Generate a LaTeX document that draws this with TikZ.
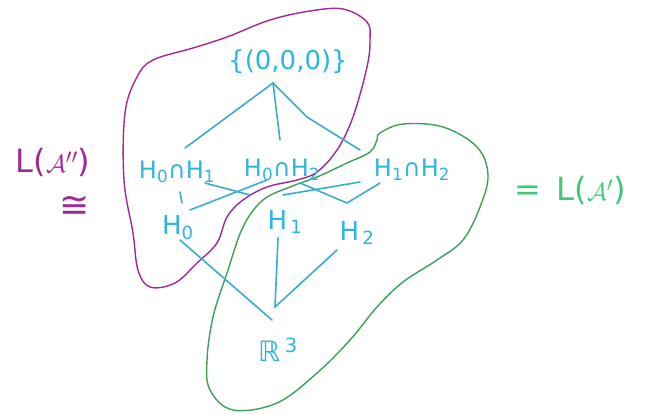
\documentclass[tikz,border=0pt]{standalone}
\usepackage{fontspec}
\setmainfont{DejaVu Sans}
\usetikzlibrary{calc}
\definecolor{cyanink}{RGB}{45,182,224}
\definecolor{edgeink}{RGB}{60,172,205}
\definecolor{magink}{RGB}{163,40,150}
\definecolor{greenline}{RGB}{60,160,85}
\definecolor{greentext}{RGB}{62,200,122}
\begin{document}
\begin{tikzpicture}[x=1pt,y=-1pt,
  lab/.style={text=cyanink,inner sep=0pt,font=\fontsize{24}{28}\selectfont},
  edge/.style={draw=edgeink,line width=1.6pt,line cap=round,line join=round},
  magblob/.style={draw=magink,line width=1.4pt},
  greenblob/.style={draw=greenline,line width=1.4pt}]
\useasboundingbox (0,0) rectangle (645,416);
\fill[white] (0,0) rectangle (645,416);
% blobs
\draw[magblob] plot[smooth cycle,tension=0.6] coordinates {
 (343,9) (367,22) (370,40) (367,67) (353,117) (337,150) (317,172) (297,180)
 (267,187) (243,200) (227,217) (217,243) (197,263) (175,283) (150,287)
 (138,270) (133,233) (124,180) (125,113) (137,77) (153,60) (193,48)
 (227,37) (270,20) (310,11)};
\draw[greenblob] plot[smooth cycle,tension=0.6] coordinates {
 (380,133) (403,124) (443,127) (477,147) (488,175) (480,207) (463,240)
 (437,260) (403,282) (377,307) (350,340) (317,373) (277,403) (233,410)
 (210,390) (207,360) (213,317) (227,273) (243,227) (263,200) (290,187)
 (317,177) (347,163) (370,152) (377,140)};
% nodes
\node[lab,font=\fontsize{26}{30}\selectfont] (top) at (288,62) {\{(0,0,0)\}};
\node[lab] (h01) at (177,172) {H\textsubscript{0}∩H\textsubscript{1}};
\node[lab] (h02) at (282,170) {H\textsubscript{0}∩H\textsubscript{2}};
\node[lab] (h12) at (412,170) {H\textsubscript{1}∩H\textsubscript{2}};
\node[lab,font=\fontsize{26}{30}\selectfont] (h0) at (178,228) {H\textsubscript{0}};
\node[lab,font=\fontsize{26}{30}\selectfont] (h1) at (285,222) {H\textsubscript{\,1}};
\node[lab,font=\fontsize{26}{30}\selectfont] (h2) at (357,233) {H\textsubscript{\,2}};
\node[lab,font=\fontsize{28}{32}\selectfont] (r3) at (278,350) {ℝ\,\textsuperscript{3}};
\node[text=magink,inner sep=0pt,font=\fontsize{32}{36}\selectfont] (lA2) at (53,162) {L($\mathcal{A}''$)};
\node[text=magink,inner sep=0pt,font=\fontsize{36}{38}\selectfont] (iso) at (75,207) {≅};
\node[text=greentext,inner sep=0pt,font=\fontsize{32}{36}\selectfont] (lA1) at (570,190) {=\, L($\mathcal{A}'$)};
% edges
\draw[edge] ([shift={(-15,21)}]top.center) -- ([shift={(8,-24)}]h01.center);
\draw[edge] ([shift={(-15,21)}]top.center) -- ([shift={(-2,-30)}]h02.center);
\draw[edge] ([shift={(-15,21)}]top.center) -- ([shift={(19,55)}]top.center) -- ([shift={(-52,-20)}]h12.center);
\draw[edge] ([shift={(3,20)}]h01.center) -- ([shift={(4,-25)}]h0.center);
\draw[edge] ([shift={(-15,10)}]h02.center) -- ([shift={(12,-18)}]h0.center);
\draw[edge] ([shift={(28,11)}]h01.center) -- ([shift={(-35,-27)}]h1.center);
\draw[edge] ([shift={(18,13)}]h02.center) -- ([shift={(-10,-30)}]h2.center);
\draw[edge] ([shift={(-32,13)}]h12.center) -- ([shift={(-10,-30)}]h2.center);
\draw[edge] ([shift={(-52,12)}]h12.center) -- ([shift={(-2,-27)}]h1.center);
\draw[edge] ([shift={(2,12)}]h0.center) -- ([shift={(-6,-30)}]r3.center);
\draw[edge] ([shift={(-7,16)}]h1.center) -- ([shift={(-3,-43)}]r3.center);
\draw[edge] ([shift={(-20,17)}]h2.center) -- ([shift={(-3,-43)}]r3.center);
\end{tikzpicture}
\end{document}
